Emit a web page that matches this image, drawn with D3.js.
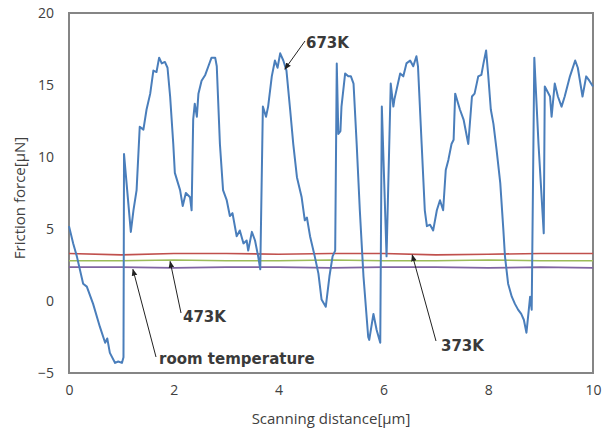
<!DOCTYPE html>
<html>
<head>
<meta charset="utf-8">
<script src="https://cdn.jsdelivr.net/npm/d3@7"></script>
<style>
  body { margin: 0; background: #fff; }
  svg { font-family: "Open Sans", "Liberation Sans", sans-serif; }
</style>
</head>
<body>
<script>
const WIDTH = 612;
const HEIGHT = 432;
const LEFT = 69, TOP = 13, RIGHT = 593, BOTTOM = 373;

// 673K trace
const hotX = [0, 0.08, 0.15, 0.27, 0.34, 0.46, 0.59, 0.69, 0.73, 0.78, 0.88, 0.94, 1.01, 1.04, 1.05,
  1.18, 1.23, 1.29, 1.35, 1.42, 1.48, 1.55, 1.61, 1.67, 1.72, 1.77, 1.83, 1.88, 1.93, 1.99,
  2.02, 2.12, 2.17, 2.23, 2.31, 2.34, 2.37, 2.40, 2.44, 2.47, 2.53, 2.60, 2.66, 2.72, 2.79,
  2.82, 2.88, 2.94, 3.01, 3.07, 3.12, 3.20, 3.26, 3.33, 3.39, 3.42, 3.49, 3.55, 3.61, 3.65,
  3.70, 3.76, 3.80, 3.87, 3.93, 3.98, 4.03, 4.09, 4.15, 4.22, 4.28, 4.35, 4.44, 4.50, 4.54,
  4.60, 4.69, 4.76, 4.82, 4.90, 4.97, 5.03, 5.08, 5.11, 5.14, 5.18, 5.20, 5.27, 5.33, 5.38,
  5.43, 5.49, 5.55, 5.62, 5.71, 5.73, 5.81, 5.87, 5.94, 5.97, 6.06, 6.14, 6.19, 6.21, 6.32,
  6.38, 6.44, 6.51, 6.57, 6.63, 6.66, 6.73, 6.79, 6.83, 6.89, 6.95, 7.02, 7.08, 7.14, 7.19,
  7.24, 7.30, 7.34, 7.37, 7.46, 7.53, 7.62, 7.69, 7.74, 7.81, 7.87, 7.91, 7.96, 8.00, 8.05,
  8.10, 8.16, 8.23, 8.29, 8.32, 8.38, 8.45, 8.51, 8.57, 8.63, 8.68, 8.73, 8.80, 8.83, 8.88,
  8.96, 9.06, 9.08, 9.18, 9.21, 9.27, 9.33, 9.40, 9.46, 9.56, 9.66, 9.71, 9.80, 9.87, 9.93, 10.0];
const hotY = [5.2, 4.0, 3.1, 1.2, 1.0, -0.2, -1.8, -2.9, -2.6, -3.6, -4.3, -4.2, -4.3, -3.9, 10.2,
  4.8, 6.3, 7.7, 12.1, 11.9, 13.3, 14.4, 16.0, 15.9, 16.9, 16.5, 16.6, 16.2, 14.2, 10.9,
  8.9, 7.7, 6.6, 7.5, 7.2, 6.3, 12.6, 13.7, 12.8, 14.4, 15.3, 15.7, 16.3, 16.9, 16.9,
  16.3, 10.9, 7.7, 7.0, 5.9, 6.1, 4.5, 4.9, 4.0, 4.2, 3.5, 4.8, 4.2, 3.1, 2.2,
  13.5, 12.8, 13.5, 15.6, 16.7, 16.2, 17.2, 16.7, 16.0, 13.3, 10.9, 8.6, 7.2, 5.6, 5.8,
  4.5, 3.1, 1.9, 0.1, -0.4, 1.7, 3.1, 3.5, 16.5, 11.6, 11.8, 13.5, 15.8, 15.6, 15.6,
  15.1, 10.9, 6.3, 1.7, -2.5, -2.7, -0.9, -2.0, -2.9, 13.5, 3.1, 15.1, 13.5, 14.0, 15.8,
  15.6, 16.5, 16.7, 16.3, 17.0, 16.3, 10.9, 6.3, 5.2, 5.3, 4.9, 6.3, 7.0, 6.3, 9.1,
  9.8, 10.9, 11.2, 14.4, 13.3, 12.6, 10.9, 14.2, 14.4, 15.6, 15.7, 16.5, 17.4, 15.7, 13.3,
  12.3, 10.5, 8.2, 4.9, 3.1, 1.2, 0.3, -0.2, -0.6, -0.9, -1.3, -2.2, 0.3, -0.6, 16.9,
  10.9, 4.7, 14.9, 14.2, 12.8, 15.1, 14.2, 13.5, 14.2, 15.6, 16.7, 16.2, 14.2, 15.6, 15.3, 14.9];

// flat traces
const flatX = [0, 1, 2, 3, 4, 5, 6, 7, 8, 9, 10];
const y373 = [3.3, 3.2, 3.3, 3.3, 3.25, 3.3, 3.3, 3.2, 3.25, 3.3, 3.3];
const y473 = [2.8, 2.8, 2.85, 2.8, 2.8, 2.85, 2.8, 2.8, 2.85, 2.8, 2.8];
const yRoom = [2.35, 2.35, 2.3, 2.35, 2.35, 2.3, 2.35, 2.35, 2.3, 2.35, 2.3];

const xTicks = [0, 2, 4, 6, 8, 10];
const yTicks = [-5, 0, 5, 10, 15, 20];

const svg = d3.select("body").append("svg")
  .attr("width", WIDTH).attr("height", HEIGHT);

const x = d3.scaleLinear().domain([0, 10]).range([LEFT, RIGHT]);
const y = d3.scaleLinear().domain([-5, 20]).range([BOTTOM, TOP]);

const line = d3.line().x(d => x(d[0])).y(d => y(d[1]));

function drawSeries(xs, ys, colour, w) {
  svg.append("path")
    .datum(xs.map((v, i) => [v, ys[i]]))
    .attr("fill", "none")
    .attr("stroke", colour)
    .attr("stroke-width", w)
    .attr("stroke-linejoin", "round")
    .attr("d", line);
}

// plot frame
svg.append("rect")
  .attr("x", x(0)).attr("y", y(20))
  .attr("width", x(10) - x(0)).attr("height", y(-5) - y(20))
  .attr("fill", "#ffffff")
  .attr("stroke", "#858585")
  .attr("stroke-width", 2);

drawSeries(flatX, y373, "#c0504d", 1.6);
drawSeries(flatX, y473, "#9bbb59", 1.6);
drawSeries(flatX, yRoom, "#8064a2", 1.6);
drawSeries(hotX, hotY, "#4a7ebb", 2);

// axes (labels only)
const xAxis = svg.append("g").attr("transform", "translate(0," + BOTTOM + ")")
  .call(d3.axisBottom(x).tickValues(xTicks).tickSize(0).tickPadding(12));
const yAxis = svg.append("g").attr("transform", "translate(" + LEFT + ",0)")
  .call(d3.axisLeft(y).tickValues(yTicks).tickSize(0).tickPadding(15));
[xAxis, yAxis].forEach(a => {
  a.select(".domain").remove();
  a.selectAll("text").attr("font-size", 14).attr("fill", "#404040")
    .attr("font-family", "'Open Sans', sans-serif");
});

// annotations
svg.append("defs").append("marker")
  .attr("id", "head").attr("viewBox", "0 0 10 10")
  .attr("refX", 9).attr("refY", 5)
  .attr("markerWidth", 7).attr("markerHeight", 7)
  .attr("orient", "auto")
  .append("path").attr("d", "M0,1 L10,5 L0,9 z").attr("fill", "#222");

const notes = [
  { text: "673K", tx: 306, ty: 48, from: [305, 41], to: [x(4.12), y(16.1)] },
  { text: "473K", tx: 183, ty: 322, from: [181, 313], to: [x(1.93), y(2.75)] },
  { text: "room temperature", tx: 159, ty: 364, from: [156, 357], to: [x(1.22), y(2.2)] },
  { text: "373K", tx: 441, ty: 351, from: [436, 341], to: [x(6.55), y(3.2)] }
];

notes.forEach(n => {
  svg.append("line")
    .attr("x1", n.from[0]).attr("y1", n.from[1])
    .attr("x2", n.to[0]).attr("y2", n.to[1])
    .attr("stroke", "#222").attr("stroke-width", 1)
    .attr("marker-end", "url(#head)");
  svg.append("text")
    .attr("x", n.tx).attr("y", n.ty)
    .attr("font-family", "'DejaVu Sans', sans-serif")
    .attr("font-size", 15)
    .attr("font-weight", "bold")
    .attr("fill", "#3a3a3a")
    .text(n.text);
});

// axis titles
svg.append("text")
  .attr("x", (LEFT + RIGHT) / 2).attr("y", 424)
  .attr("text-anchor", "middle")
  .attr("font-size", 15).attr("fill", "#404040")
  .text("Scanning distance[μm]");

svg.append("text")
  .attr("transform", "translate(25," + ((TOP + BOTTOM) / 2 + 5) + ") rotate(-90)")
  .attr("text-anchor", "middle")
  .attr("font-size", 15).attr("fill", "#404040")
  .text("Friction force[μN]");
</script>
</body>
</html>
